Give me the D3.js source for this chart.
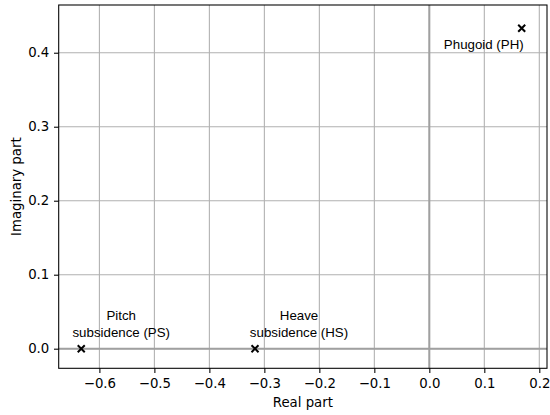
<!DOCTYPE html>
<html>
<head>
<meta charset="utf-8">
<script src="https://cdn.jsdelivr.net/npm/d3@7"></script>
<style>
  body { margin: 0; background: #fff; }
  svg { display: block; }
  .tick text { font-family: "DejaVu Sans", sans-serif; font-size: 13.3px; fill: #000; }
</style>
</head>
<body>
<div class="chart"></div>
<script>
// eigenvalues of the longitudinal modes
var modeNames = ["Pitch\nsubsidence (PS)", "Heave\nsubsidence (HS)", "Phugoid (PH)"];
var realParts = [-0.633, -0.317, 0.168];
var imagParts = [0.0, 0.0, 0.433];
var xTicks = [-0.6, -0.5, -0.4, -0.3, -0.2, -0.1, 0.0, 0.1, 0.2];
var yTicks = [0.0, 0.1, 0.2, 0.3, 0.4];

// where each label sits relative to its marker (px) and how it is anchored
var labelPlace = [
    {dx: 40, dy: -12, anchor: "middle"},
    {dx: 44, dy: -12, anchor: "middle"},
    {dx: 2, dy: 21, anchor: "end"}
];

var W = 550, H = 415;
var margin = {top: 5, right: 3, bottom: 46.7, left: 58.7};
var width = W - margin.left - margin.right,
    height = H - margin.top - margin.bottom;

var svg = d3.select(".chart").append("svg")
    .attr("width", W)
    .attr("height", H);
var g = svg.append("g")
    .attr("transform", "translate(" + margin.left + "," + margin.top + ")");

var x = d3.scaleLinear().domain([-0.674, 0.214]).range([0, width]);
var y = d3.scaleLinear().domain([-0.0265, 0.4645]).range([height, 0]);

// grid
g.append("g").selectAll("line").data(xTicks).enter().append("line")
    .attr("x1", function(d) { return x(d); }).attr("x2", function(d) { return x(d); })
    .attr("y1", 0).attr("y2", height)
    .attr("stroke", "#b0b0b0").attr("stroke-width", 1.07);
g.append("g").selectAll("line").data(yTicks).enter().append("line")
    .attr("y1", function(d) { return y(d); }).attr("y2", function(d) { return y(d); })
    .attr("x1", 0).attr("x2", width)
    .attr("stroke", "#b0b0b0").attr("stroke-width", 1.07);

// zero lines
g.append("line")
    .attr("x1", 0).attr("x2", width)
    .attr("y1", y(0)).attr("y2", y(0))
    .attr("stroke", "#a0a0a0").attr("stroke-width", 2);
g.append("line")
    .attr("x1", x(0)).attr("x2", x(0))
    .attr("y1", 0).attr("y2", height)
    .attr("stroke", "#a0a0a0").attr("stroke-width", 2);

// axes
var fmt = d3.format(".1f");
var xAxis = g.append("g")
    .attr("transform", "translate(0," + height + ")")
    .call(d3.axisBottom(x).tickValues(xTicks).tickFormat(fmt).tickSize(4.7).tickPadding(5.5).tickSizeOuter(0));
var yAxis = g.append("g")
    .call(d3.axisLeft(y).tickValues(yTicks).tickFormat(fmt).tickSize(4.7).tickPadding(4.7).tickSizeOuter(0));
[xAxis, yAxis].forEach(function(a) {
    a.select(".domain").remove();
    a.selectAll(".tick line").attr("stroke", "#000").attr("stroke-width", 1.07);
});

// frame
g.append("rect")
    .attr("width", width).attr("height", height)
    .attr("fill", "none").attr("stroke", "#000").attr("stroke-width", 1.07);

// points
var pts = modeNames.map(function(n, i) { return {name: n, re: realParts[i], im: imagParts[i], lp: labelPlace[i]}; });
var s = 3.5;
g.selectAll(".pt").data(pts).enter().append("path")
    .attr("class", "pt")
    .attr("d", function(d) {
        var px = x(d.re), py = y(d.im);
        return "M" + (px - s) + "," + (py - s) + "L" + (px + s) + "," + (py + s) +
               "M" + (px - s) + "," + (py + s) + "L" + (px + s) + "," + (py - s);
    })
    .attr("stroke", "#000").attr("stroke-width", 2).attr("fill", "none");

// labels
pts.forEach(function(d) {
    var lines = d.name.split("\n");
    var px = x(d.re) + d.lp.dx, py = y(d.im) + d.lp.dy;
    var t = g.append("text")
        .attr("text-anchor", d.lp.anchor)
        .attr("font-family", "Liberation Sans, Arial, sans-serif")
        .attr("font-size", "13.3px")
        .attr("fill", "#000");
    lines.forEach(function(l, i) {
        t.append("tspan")
            .attr("x", px)
            .attr("y", py - (lines.length - 1 - i) * 16.6)
            .text(l);
    });
});

// axis titles
svg.append("text")
    .attr("x", margin.left + width / 2).attr("y", 406.7)
    .attr("text-anchor", "middle")
    .attr("font-family", "DejaVu Sans, sans-serif").attr("font-size", "13.3px")
    .text("Real part");
svg.append("text")
    .attr("transform", "translate(20.7," + (margin.top + height / 2) + ") rotate(-90)")
    .attr("text-anchor", "middle")
    .attr("font-family", "DejaVu Sans, sans-serif").attr("font-size", "13.3px")
    .text("Imaginary part");
</script>
</body>
</html>
